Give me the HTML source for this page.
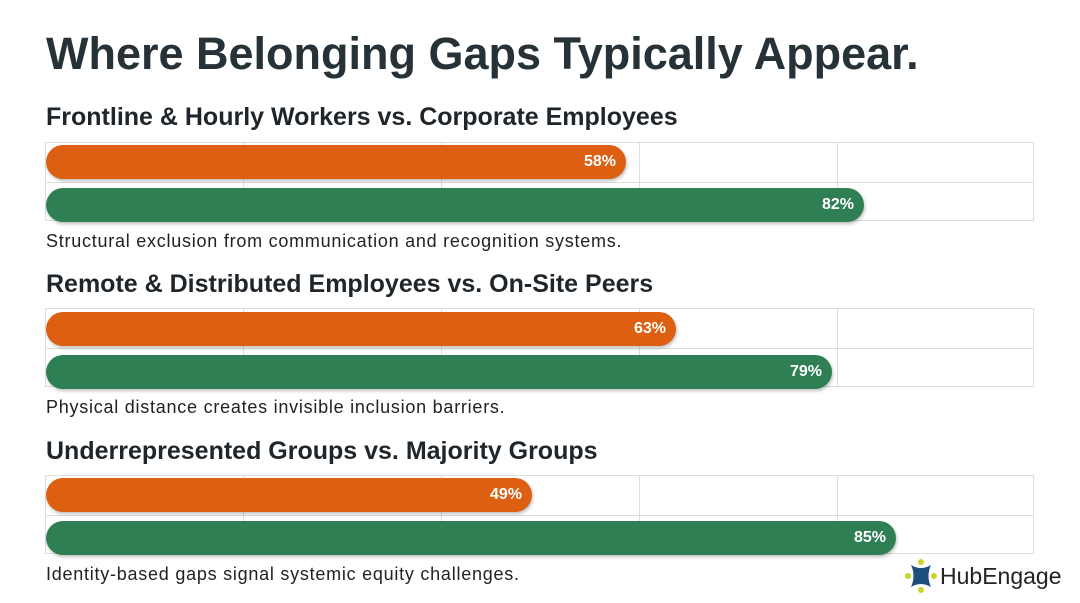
<!DOCTYPE html><html><head><style>
body{margin:0;width:1080px;height:603px;background:#fff;font-family:"Liberation Sans",sans-serif;color:#222;position:relative;overflow:hidden}
.t{position:absolute;left:46px;top:28px;font-size:45px;font-weight:bold;color:#273238;letter-spacing:0}
.h{position:absolute;left:46px;font-size:25px;font-weight:bold;color:#1f262b;letter-spacing:0}
.c{position:absolute;left:46px;font-size:18px;color:#222;letter-spacing:0.75px}
.g{position:absolute;left:45px;width:989px;height:79px;border:1px solid #ddd;box-sizing:border-box;
background:linear-gradient(#ddd,#ddd) 0 39px/100% 1px no-repeat,
repeating-linear-gradient(90deg,transparent 0 197px,#ddd 197px 198px)}
.b{position:absolute;left:46px;height:34px;border-radius:17px;color:#fff;font-weight:bold;font-size:16px;text-align:right;line-height:34px;box-sizing:border-box;padding-right:10px;box-shadow:1px 2px 3px rgba(0,0,0,.25)}
.o{background:#dd5f12}.gr{background:#2e8054}
</style></head><body>
<div class="t">Where Belonging Gaps Typically Appear.</div>

<div class="h" style="top:103px">Frontline &amp; Hourly Workers vs. Corporate Employees</div>
<div class="g" style="top:142px"></div>
<div class="b o" style="top:145px;width:580px">58%</div>
<div class="b gr" style="top:188px;width:818px">82%</div>
<div class="c" style="top:231px">Structural exclusion from communication and recognition systems.</div>

<div class="h" style="top:270px">Remote &amp; Distributed Employees vs. On-Site Peers</div>
<div class="g" style="top:308px"></div>
<div class="b o" style="top:312px;width:630px">63%</div>
<div class="b gr" style="top:355px;width:786px">79%</div>
<div class="c" style="top:397px">Physical distance creates invisible inclusion barriers.</div>

<div class="h" style="top:437px">Underrepresented Groups vs. Majority Groups</div>
<div class="g" style="top:475px"></div>
<div class="b o" style="top:478px;width:486px">49%</div>
<div class="b gr" style="top:521px;width:850px">85%</div>
<div class="c" style="top:564px">Identity-based gaps signal systemic equity challenges.</div>

<svg style="position:absolute;left:904px;top:559px" width="34" height="34" viewBox="0 0 34 34">
<circle cx="4" cy="17" r="3" fill="#c8d62b"/><circle cx="30" cy="17" r="3" fill="#c8d62b"/><circle cx="17" cy="3" r="3" fill="#c8d62b"/><circle cx="17" cy="31" r="3" fill="#c8d62b"/>
<path d="M7 6 Q17 12 27 6 Q22 17 27 28 Q17 22 7 28 Q12 17 7 6Z" fill="#1c4e7e"/></svg>
<div style="position:absolute;left:940px;top:563px;font-size:23px;color:#222">HubEngage</div>
</body></html>
